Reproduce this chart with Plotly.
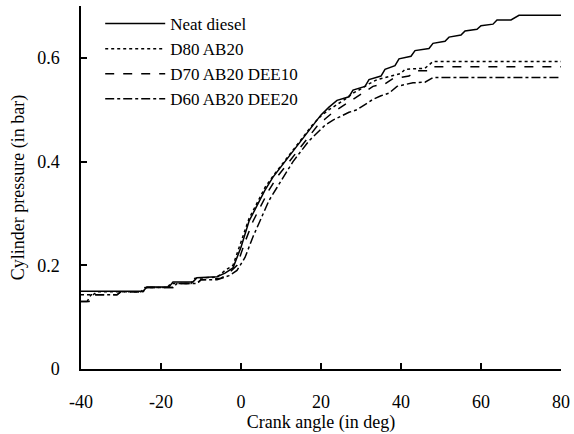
import plotly.graph_objects as go

# Crank angle (deg) and cylinder pressure (bar)
neat_x = [-40, -24.5, -23.5, -18, -17, -12, -11, -6, -4, -2, 0, 2, 4, 6, 8, 10, 12, 14, 16, 18, 20, 22,
          24, 27, 28, 31, 32, 35, 36, 38.5, 39.5, 42.5, 43.5, 47, 48, 51, 52, 55, 56, 59, 60, 63, 64,
          67.5, 69.5, 80]
neat_y = [0.150, 0.150, 0.158, 0.158, 0.168, 0.168, 0.176, 0.178, 0.185, 0.195, 0.235, 0.285, 0.315, 0.345,
          0.370, 0.390, 0.410, 0.430, 0.450, 0.470, 0.490, 0.505,
          0.518, 0.525, 0.538, 0.545, 0.558, 0.565, 0.578, 0.585, 0.598, 0.603, 0.614, 0.618, 0.628, 0.632,
          0.640, 0.644, 0.652, 0.655, 0.662, 0.665, 0.673, 0.673, 0.682, 0.682]

d80_x = [-40, -37, -36, -25, -24, -18.5, -17.5, -12.5, -11.5, -6, -4, -2, 0, 2, 4, 6, 8, 10, 12, 14, 16, 18,
         20, 22, 24, 26, 28, 30, 32, 34, 36, 40, 41, 46, 48, 80]
d80_y = [0.143, 0.143, 0.149, 0.149, 0.157, 0.157, 0.165, 0.165, 0.175, 0.177, 0.190, 0.200, 0.245, 0.290,
         0.320, 0.350, 0.372, 0.392, 0.412, 0.432, 0.452, 0.472, 0.488, 0.500, 0.510, 0.520, 0.532, 0.540,
         0.550, 0.558, 0.562, 0.570, 0.578, 0.580, 0.593, 0.593]

d70_x = [-40, -38, -37, -31, -30, -25, -24, -17, -16, -11, -10, -5, -3, -1, 1, 3, 5, 7, 9, 11, 13, 15, 17,
         19, 21, 23, 25, 27, 29, 31, 33, 36, 38, 42, 44, 47, 48, 80]
d70_y = [0.130, 0.130, 0.143, 0.143, 0.149, 0.149, 0.157, 0.157, 0.165, 0.165, 0.172, 0.175, 0.185, 0.200,
         0.245, 0.285, 0.315, 0.345, 0.370, 0.390, 0.410, 0.430, 0.450, 0.468, 0.482, 0.495, 0.505, 0.515,
         0.525, 0.535, 0.545, 0.550, 0.560, 0.565, 0.575, 0.575, 0.583, 0.583]

d60_x = [-40, -38.5, -37.5, -31, -30, -24.5, -23.5, -17, -16, -11, -10, -6, -3, -1, 1, 3, 5, 7, 9, 11, 13,
         15, 17, 19, 21, 23, 25, 27, 29, 31, 33, 35, 37, 39, 43, 46, 48, 80]
d60_y = [0.130, 0.130, 0.143, 0.143, 0.149, 0.149, 0.157, 0.157, 0.165, 0.165, 0.172, 0.172, 0.180, 0.190,
         0.215, 0.255, 0.290, 0.325, 0.350, 0.375, 0.400, 0.420, 0.440, 0.455, 0.470, 0.480, 0.488, 0.495,
         0.500, 0.510, 0.520, 0.527, 0.532, 0.545, 0.552, 0.553, 0.562, 0.562]

x_ticks = [-40, -20, 0, 20, 40, 60, 80]
x_ticktext = ["-40", "-20", "0", "20", "40", "60", "80"]
y_ticks = [0, 0.2, 0.4, 0.6]
y_ticktext = ["0", "0.2", "0.4", "0.6"]

series = [
    ("Neat diesel", neat_x, neat_y, "solid"),
    ("D80 AB20", d80_x, d80_y, "dot"),
    ("D70 AB20 DEE10", d70_x, d70_y, "dash"),
    ("D60 AB20 DEE20", d60_x, d60_y, "dashdot"),
]

FONT = "Liberation Serif, Times New Roman, serif"

fig = go.Figure()
for name, xs, ys, dash in series:
    fig.add_trace(go.Scatter(x=xs, y=ys, mode="lines", name=name,
                             line=dict(color="black", width=1.5, dash=dash)))

fig.update_layout(
    width=574, height=434,
    margin=dict(l=81, r=13, t=6, b=65),
    paper_bgcolor="white", plot_bgcolor="white",
    font=dict(family=FONT, size=18, color="black"),
    showlegend=True,
    legend=dict(x=0.04, y=1.0, xanchor="left", yanchor="top",
                bgcolor="rgba(0,0,0,0)", font=dict(family=FONT, size=17),
                itemwidth=60, tracegroupgap=0),
)
fig.update_xaxes(range=[-40, 80], tickvals=x_ticks, ticktext=x_ticktext, automargin=False,
                 showgrid=False, zeroline=False, showline=True, linecolor="black", linewidth=1.5,
                 ticks="inside", ticklen=6, tickcolor="black", tickwidth=1.5,
                 ticklabelstandoff=16, tickfont=dict(family=FONT, size=18),
                 title=dict(text="Crank angle (in deg)", standoff=0, font=dict(family=FONT, size=18)))
fig.update_yaxes(range=[0, 0.7], tickvals=y_ticks, ticktext=y_ticktext, automargin=False,
                 showgrid=False, zeroline=False, showline=True, linecolor="black", linewidth=1.5,
                 ticks="inside", ticklen=6, tickcolor="black", tickwidth=1.5,
                 ticklabelstandoff=16, tickfont=dict(family=FONT, size=18),
                 title=dict(text="Cylinder pressure (in bar)", standoff=8, font=dict(family=FONT, size=18)))

fig.write_html("out.html", config={"displayModeBar": False},
               post_script="document.body.style.margin='0';document.body.style.padding='0';")
